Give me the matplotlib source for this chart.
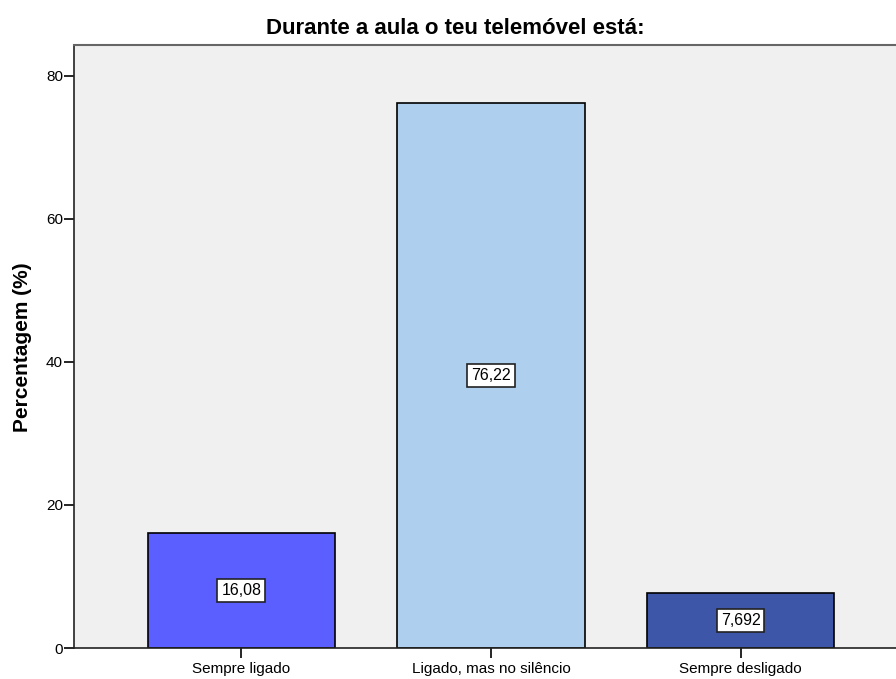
import matplotlib.pyplot as plt

categorias = ['Sempre ligado', 'Ligado, mas no silêncio', 'Sempre desligado']
percentagens = [16.08, 76.22, 7.692]
rotulos = ['16,08', '76,22', '7,692']
cores = ['#5b5fff', '#aecfee', '#3d56a8']

plt.rcParams['font.family'] = ['Liberation Sans', 'DejaVu Sans']

fig = plt.figure(figsize=(8.96, 6.79), dpi=100, facecolor='white')
ax = fig.add_axes([74 / 896, 31 / 679, 1 - 74 / 896, (648 - 45) / 679])
ax.set_facecolor('#f0f0f0')

pos = list(range(len(categorias)))
ax.bar(pos, percentagens, width=0.75, color=cores, edgecolor='black', linewidth=1.2, zorder=2)

# rótulos de valor dentro das barras
for x, v, r in zip(pos, percentagens, rotulos):
    ax.text(x, v / 2, r, ha='center', va='center', fontsize=11.5,
            bbox=dict(boxstyle='square,pad=0.25', facecolor='white', edgecolor='#222222', linewidth=1.2),
            zorder=3)

ax.set_xlim(-0.671, 2.623)
ax.set_ylim(0, 84.3)
ax.set_yticks([0, 20, 40, 60, 80])
ax.set_xticks(pos)
ax.set_xticklabels(categorias, fontsize=11)
ax.tick_params(axis='y', labelsize=11, length=7, width=1.2, pad=1)
ax.tick_params(axis='x', length=7, width=1.2, pad=3)

for s in ['left', 'bottom']:
    ax.spines[s].set_linewidth(1.2)
    ax.spines[s].set_color('#222222')
ax.spines['top'].set_color('#666666')
ax.spines['top'].set_linewidth(1.5)
ax.spines['right'].set_visible(False)

fig.text(455 / 896, 1 - 28 / 679, 'Durante a aula o teu telemóvel está:', ha='center', va='center',
         fontsize=16, fontweight='bold')
fig.text(22 / 896, 1 - 347 / 679, 'Percentagem (%)', ha='center', va='center', rotation=90,
         fontsize=15, fontweight='bold')

fig.savefig('out.png', dpi=100)
